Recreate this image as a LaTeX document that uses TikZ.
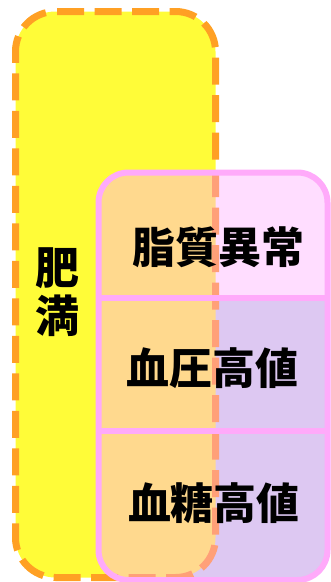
\documentclass[tikz,border=0pt]{standalone}
\usepackage{fontspec}
\setmainfont{Noto Sans CJK JP}
\definecolor{ylw}{HTML}{FFFC38}
\definecolor{org}{HTML}{FFA024}
\definecolor{salmon}{HTML}{FFA078}
\definecolor{pinkln}{HTML}{FFAAFA}
\definecolor{pinkfill}{HTML}{FFDDFF}
\definecolor{lav}{HTML}{DDC8F2}
\definecolor{ovl}{HTML}{FFD98E}
\begin{document}
\begin{tikzpicture}[x=1pt,y=-1pt,
  ydash/.style={line width=7pt,dash pattern=on 27pt off 10.5pt,dash phase=36pt},
  label/.style={inner sep=0pt,text=black,font=\fontsize{43}{48}\selectfont\bfseries},
  vlabel/.style={inner sep=0pt,text=black,align=center,font=\fontsize{44}{48}\selectfont\bfseries}]
\useasboundingbox (0,0) rectangle (331,582);
\def\ypath{(55.5,11.5) -- (175.5,11.5) arc[start angle=-90,end angle=0,radius=40]
  -- (215.5,537.5) arc[start angle=0,end angle=90,radius=40]
  -- (55.5,577.5) arc[start angle=90,end angle=180,radius=40]
  -- (15.5,51.5) arc[start angle=180,end angle=270,radius=40] -- cycle}
\def\ppath{[rounded corners=30pt] (98.5,172.5) rectangle (327.5,580)}
% yellow box
\fill[ylw] \ypath;
\draw[org,ydash] \ypath;
% pink box fills
\begin{scope}
  \clip \ppath;
  \fill[pinkfill] (90,165) rectangle (335,298);
  \fill[lav] (90,298) rectangle (335,590);
\end{scope}
% overlap region
\begin{scope}
  \clip \ppath;
  \clip \ypath;
  \fill[ovl] (0,0) rectangle (331,582);
\end{scope}
\begin{scope}
  \clip \ppath;
  \draw[salmon,ydash] \ypath;
\end{scope}
% pink border and dividers
\draw[pinkln,line width=6pt] \ppath;
\coordinate (d1l) at (98.5,298);
\coordinate (d1r) at (327.5,298);
\coordinate (d2l) at (98.5,431);
\coordinate (d2r) at (327.5,431);
\draw[pinkln,line width=6pt] (d1l) -- (d1r);
\draw[pinkln,line width=6pt] (d2l) -- (d2r);
% texts
\node[vlabel] (obesity) at (57.5,292) {肥\\満};
\node[label] (lipid) at (218.5,247.5) {脂質異常};
\node[label] (bp) at (212.5,368) {血圧高値};
\node[label] (bs) at (214,503.5) {血糖高値};
\end{tikzpicture}
\end{document}
